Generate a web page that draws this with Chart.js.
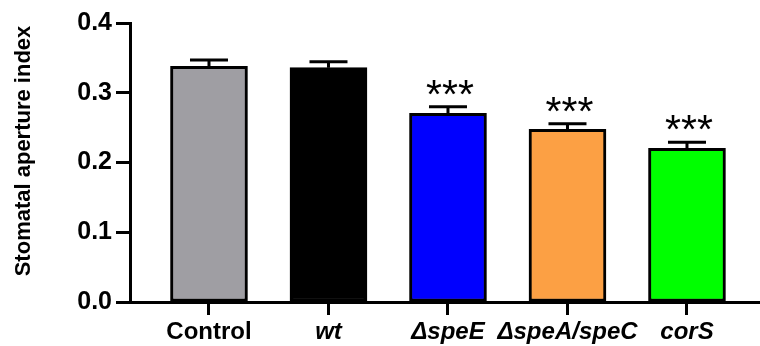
<!DOCTYPE html>
<html>
<head>
<meta charset="utf-8">
<script src="https://cdn.jsdelivr.net/npm/chart.js@4"></script>
<style>
  html, body { margin: 0; padding: 0; background: #fff; }
  #wrap { width: 760px; height: 346px; position: relative; }
</style>
</head>
<body>
<div id="wrap"><canvas id="grafico"></canvas></div>
<script>
// datos
var categorias = ['Control', 'wt', '\u0394speE', '\u0394speA/speC', 'corS'];
var valores = [0.338, 0.336, 0.2705, 0.2476, 0.2204];
var errores = [0.009, 0.0085, 0.0095, 0.008, 0.0086];
var marcas = ['', '', '***', '***', '***'];
var colores = ['#9F9EA3', '#000000', '#0000FF', '#FCA044', '#00FF00'];
var ticksY = [0, 0.1, 0.2, 0.3, 0.4];

var fuente = '"Liberation Sans", Arial, Helvetica, sans-serif';

// barras de error (solo la parte superior) y asteriscos
var pluginErrores = {
    id: 'errores',
    afterDatasetsDraw: function (chart) {
        var ctx = chart.ctx;
        var y = chart.scales.y;
        var barras = chart.getDatasetMeta(0).data;
        ctx.save();
        ctx.strokeStyle = '#000';
        ctx.lineWidth = 3;
        barras.forEach(function (b, i) {
            var yTop = y.getPixelForValue(valores[i]);
            var yErr = y.getPixelForValue(valores[i] + errores[i]);
            ctx.beginPath();
            ctx.moveTo(b.x, yTop);
            ctx.lineTo(b.x, yErr);
            ctx.moveTo(b.x - 19, yErr);
            ctx.lineTo(b.x + 19, yErr);
            ctx.stroke();
            if (marcas[i]) {
                ctx.fillStyle = '#000';
                ctx.font = '41px ' + fuente;
                ctx.textAlign = 'center';
                ctx.textBaseline = 'alphabetic';
                ctx.fillText(marcas[i], b.x + 2, yErr + 1);
            }
        });
        ctx.restore();
    }
};

// titulo del eje Y
var pluginTitulo = {
    id: 'tituloY',
    afterDraw: function (chart) {
        var ctx = chart.ctx;
        ctx.save();
        ctx.translate(30, 151);
        ctx.rotate(-Math.PI / 2);
        ctx.fillStyle = '#000';
        ctx.font = 'bold 22px ' + fuente;
        ctx.textAlign = 'center';
        ctx.textBaseline = 'alphabetic';
        ctx.fillText('Stomatal aperture index', 0, 0);
        ctx.restore();
    }
};

var datos = {
    datasets: [{
        data: valores.map(function (v, i) { return { x: i, y: v }; }),
        backgroundColor: colores,
        borderColor: '#000',
        borderWidth: 3,
        borderSkipped: false,
        barThickness: 77
    }]
};

var opciones = {
    responsive: true,
    maintainAspectRatio: false,
    animation: false,
    layout: { padding: { top: 23, right: 0, bottom: 0, left: 0 } },
    plugins: { legend: { display: false }, tooltip: { enabled: false } },
    scales: {
        x: {
            type: 'linear',
            offset: false,
            min: -0.661,
            max: 4.611,
            afterFit: function (s) { s.height = 44; },
            afterBuildTicks: function (s) {
                s.ticks = categorias.map(function (c, i) { return { value: i }; });
            },
            border: { display: true, color: '#000', width: 3 },
            grid: { offset: false, drawOnChartArea: false, color: '#000', tickLength: 13, tickWidth: 3 },
            ticks: {
                color: '#000',
                padding: 3,
                autoSkip: false,
                maxRotation: 0,
                font: function (c) {
                    return { family: fuente, size: 24, weight: 'bold', style: c.index === 0 ? 'normal' : 'italic' };
                },
                callback: function (v) { return categorias[v]; }
            }
        },
        y: {
            min: 0,
            max: 0.4,
            afterFit: function (s) { s.width = 130; },
            afterBuildTicks: function (s) {
                s.ticks = ticksY.map(function (t) { return { value: t }; });
            },
            border: { display: true, color: '#000', width: 3 },
            grid: { drawOnChartArea: false, color: '#000', tickLength: 14, tickWidth: 3 },
            ticks: {
                color: '#000',
                padding: 4,
                font: { family: fuente, size: 25, weight: 'bold' },
                callback: function (v) { return v.toFixed(1); }
            }
        }
    }
};

var ctx = document.getElementById('grafico').getContext('2d');
var grafico = new Chart(ctx, {
    type: 'bar',
    data: datos,
    options: opciones,
    plugins: [pluginErrores, pluginTitulo]
});
</script>
</body>
</html>
